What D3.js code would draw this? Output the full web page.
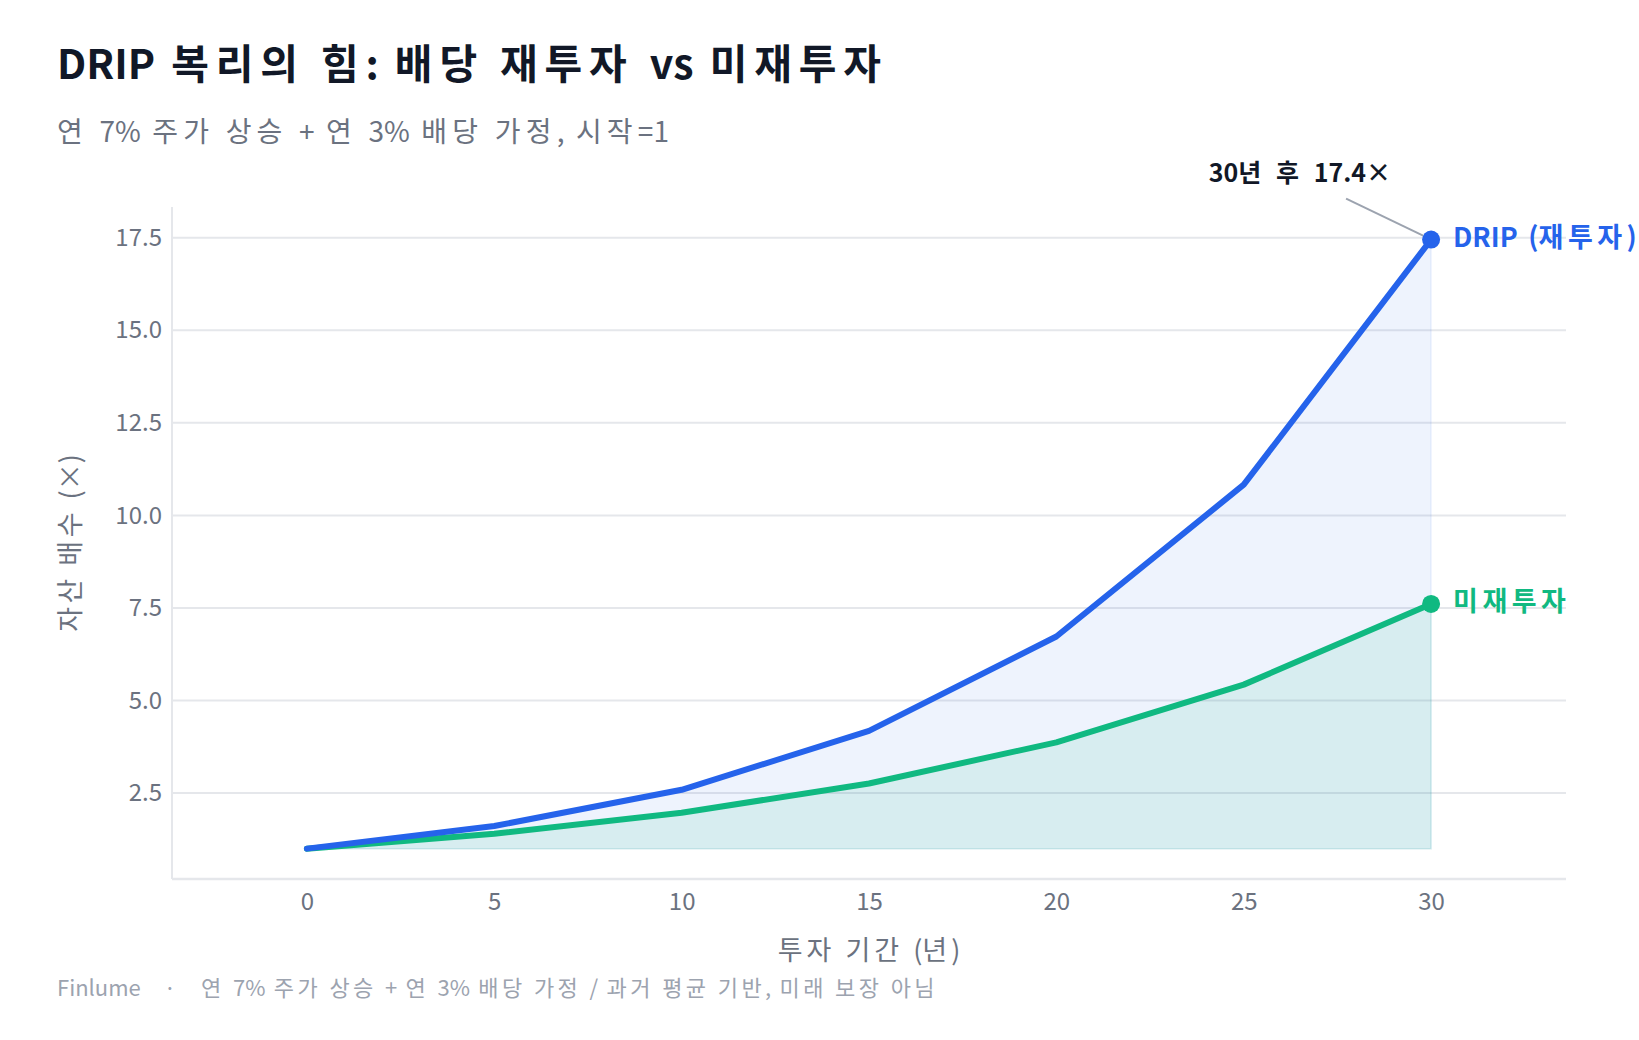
<!DOCTYPE html>
<html>
<head>
<meta charset="utf-8">
<script src="https://cdn.jsdelivr.net/npm/d3@7"></script>
<style>
  body { margin: 0; background: #ffffff; }
  svg text { font-family: "Noto Sans CJK KR", "Noto Sans", sans-serif; white-space: pre; }
</style>
</head>
<body>
<div id="chart"></div>
<script>
// ---- data ----
var years = [0, 5, 10, 15, 20, 25, 30];
var dripValues = [1.00, 1.61, 2.59, 4.18, 6.73, 10.83, 17.45];
var noDripValues = [1.00, 1.40, 1.97, 2.76, 3.87, 5.43, 7.61];
var yTicks = [2.5, 5.0, 7.5, 10.0, 12.5, 15.0, 17.5];
var xTicks = [0, 5, 10, 15, 20, 25, 30];

var titleText = "DRIP 복리의 힘: 배당 재투자 vs 미재투자";
var subtitleText = "연 7% 주가 상승 + 연 3% 배당 가정, 시작=1";
var footerBrand = "Finlume";
var footerText = "연 7% 주가 상승 + 연 3% 배당 가정 / 과거 평균 기반, 미래 보장 아님";

var attrs = {
  svgWidth: 1639,
  svgHeight: 1040,
  plotLeft: 172,
  plotRight: 1566,
  plotTop: 207,
  plotBottom: 879,
  blue: '#2563eb',
  green: '#10b981',
  gridColor: '#e5e7eb',
  tickColor: '#6b7280',
  titleColor: '#111827'
};

// hangul runs get a little extra tracking, latin stays as is
function mixedText(textSel, str, spacing, firstDx) {
  var runs = str.match(/[\uAC00-\uD7A3\s]+|[^\uAC00-\uD7A3\s]+/g);
  runs.forEach(function (r, i) {
    var t = textSel.append('tspan')
      .attr('letter-spacing', /[\uAC00-\uD7A3\s]/.test(r) ? spacing : 0)
      .text(r);
    if (i === 0 && firstDx) t.attr('dx', firstDx);
  });
  return textSel;
}

var svg = d3.select('#chart').append('svg')
  .attr('width', attrs.svgWidth)
  .attr('height', attrs.svgHeight);

// ############ scales ##############
var x = d3.scaleLinear().domain([-3.6, 33.6]).range([attrs.plotLeft, attrs.plotRight]);
var y = d3.scaleLinear().domain([0.18, 18.33]).range([attrs.plotBottom, attrs.plotTop]);

var drip = years.map(function (yr, i) { return [yr, dripValues[i]]; });
var noDrip = years.map(function (yr, i) { return [yr, noDripValues[i]]; });

// grid
svg.append('g').selectAll('line').data(yTicks).enter().append('line')
  .attr('x1', attrs.plotLeft).attr('x2', attrs.plotRight)
  .attr('y1', function (d) { return y(d); }).attr('y2', function (d) { return y(d); })
  .attr('stroke', attrs.gridColor).attr('stroke-width', 2);

// fills
var area = d3.area()
  .x(function (d) { return x(d[0]); })
  .y0(y(1))
  .y1(function (d) { return y(d[1]); });

svg.append('path').datum(drip)
  .attr('d', area)
  .attr('fill', attrs.blue).attr('fill-opacity', 0.08)
  .attr('stroke', attrs.blue).attr('stroke-opacity', 0.08).attr('stroke-width', 1.5);
svg.append('path').datum(noDrip)
  .attr('d', area)
  .attr('fill', attrs.green).attr('fill-opacity', 0.1)
  .attr('stroke', attrs.green).attr('stroke-opacity', 0.1).attr('stroke-width', 1.5);

// spines
svg.append('line')
  .attr('x1', attrs.plotLeft).attr('x2', attrs.plotLeft)
  .attr('y1', attrs.plotTop).attr('y2', attrs.plotBottom)
  .attr('stroke', attrs.gridColor).attr('stroke-width', 2);
svg.append('line')
  .attr('x1', attrs.plotLeft).attr('x2', attrs.plotRight)
  .attr('y1', attrs.plotBottom).attr('y2', attrs.plotBottom)
  .attr('stroke', attrs.gridColor).attr('stroke-width', 2.5);

// ############# axes ##################
var yAxis = svg.append('g')
  .attr('transform', 'translate(' + attrs.plotLeft + ',0)')
  .call(d3.axisLeft(y).tickValues(yTicks).tickFormat(d3.format('.1f')).tickSize(0).tickPadding(10));
yAxis.select('.domain').remove();
yAxis.selectAll('text').attr('fill', attrs.tickColor).style('font-size', '24px');

var xAxis = svg.append('g')
  .attr('transform', 'translate(0,' + attrs.plotBottom + ')')
  .call(d3.axisBottom(x).tickValues(xTicks).tickFormat(d3.format('d')).tickSize(0).tickPadding(14));
xAxis.select('.domain').remove();
xAxis.selectAll('text').attr('fill', attrs.tickColor).style('font-size', '24px');

// lines
var line = d3.line()
  .x(function (d) { return x(d[0]); })
  .y(function (d) { return y(d[1]); });

svg.append('path').datum(noDrip)
  .attr('d', line).attr('fill', 'none')
  .attr('stroke', attrs.green).attr('stroke-width', 6)
  .attr('stroke-linecap', 'round').attr('stroke-linejoin', 'round');
svg.append('path').datum(drip)
  .attr('d', line).attr('fill', 'none')
  .attr('stroke', attrs.blue).attr('stroke-width', 6)
  .attr('stroke-linecap', 'round').attr('stroke-linejoin', 'round');

// end points
var lastDrip = drip[drip.length - 1];
var lastNo = noDrip[noDrip.length - 1];
svg.append('circle').attr('cx', x(lastDrip[0])).attr('cy', y(lastDrip[1])).attr('r', 9).attr('fill', attrs.blue);
svg.append('circle').attr('cx', x(lastNo[0])).attr('cy', y(lastNo[1])).attr('r', 9).attr('fill', attrs.green);

// end labels
mixedText(svg.append('text')
  .attr('x', x(lastDrip[0]) + 22).attr('y', y(lastDrip[1]) - 2)
  .attr('dy', '0.35em')
  .attr('fill', attrs.blue).style('font-size', '27px').style('font-weight', 700),
  'DRIP (재투자)', 4.5);
mixedText(svg.append('text')
  .attr('x', x(lastNo[0]) + 22).attr('y', y(lastNo[1]) - 2)
  .attr('dy', '0.35em')
  .attr('fill', attrs.green).style('font-size', '27px').style('font-weight', 700),
  '미재투자', 4.5);

// annotation
svg.append('line')
  .attr('x1', x(lastDrip[0]) - 8).attr('y1', y(lastDrip[1]) - 4)
  .attr('x2', x(lastDrip[0]) - 85).attr('y2', y(lastDrip[1]) - 41)
  .attr('stroke', '#9ca3af').attr('stroke-width', 2);
mixedText(svg.append('text')
  .attr('x', x(lastDrip[0]) - 40).attr('y', 182)
  .attr('text-anchor', 'end')
  .attr('fill', attrs.titleColor).style('font-size', '25px').style('font-weight', 700),
  '30년 후 ' + lastDrip[1].toFixed(1) + '×', 4.5);

// axis titles
mixedText(svg.append('text')
  .attr('x', (attrs.plotLeft + attrs.plotRight) / 2).attr('y', 960)
  .attr('text-anchor', 'middle')
  .attr('fill', attrs.tickColor).style('font-size', '27px'),
  '투자 기간 (년)', 4);
mixedText(svg.append('text')
  .attr('transform', 'translate(80,' + ((attrs.plotTop + attrs.plotBottom) / 2) + ') rotate(-90)')
  .attr('text-anchor', 'middle')
  .attr('fill', attrs.tickColor).style('font-size', '27px'),
  '자산 배수 (×)', 3.5);

// title, subtitle, footer
mixedText(svg.append('text')
  .attr('x', 57).attr('y', 79)
  .attr('fill', attrs.titleColor).style('font-size', '41px').style('font-weight', 700),
  titleText, 6.8);
mixedText(svg.append('text')
  .attr('x', 57).attr('y', 142)
  .attr('fill', attrs.tickColor).style('font-size', '28px'),
  subtitleText, 5.2);

var footer = svg.append('text')
  .attr('x', 57).attr('y', 996)
  .attr('fill', '#9ca3af').style('font-size', '22px');
footer.append('tspan').text(footerBrand);
footer.append('tspan').attr('dx', 23).text('·');
mixedText(footer, footerText, 3.4, 25);
</script>
</body>
</html>
